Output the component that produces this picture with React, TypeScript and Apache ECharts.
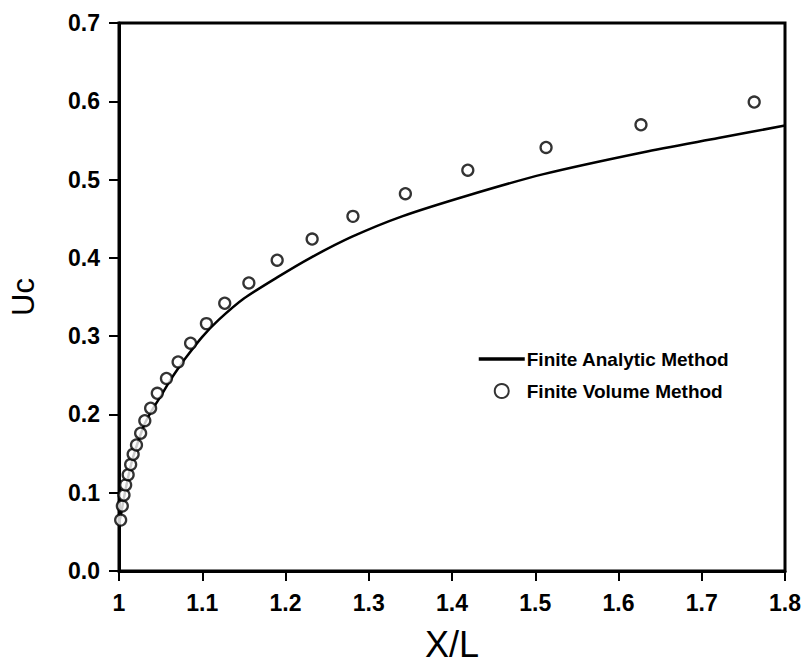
import React, { useEffect, useRef } from "react";
import * as echarts from "echarts";

// Finite Volume Method (circles)
const fvX = [1.002, 1.004, 1.006, 1.008, 1.011, 1.014, 1.017, 1.021, 1.026, 1.031, 1.038, 1.046, 1.057, 1.071, 1.086, 1.105, 1.127, 1.156, 1.19, 1.232, 1.281, 1.344, 1.419, 1.513, 1.627, 1.763];
const fvY = [0.065, 0.083, 0.097, 0.11, 0.123, 0.136, 0.149, 0.161, 0.176, 0.192, 0.208, 0.227, 0.246, 0.267, 0.291, 0.316, 0.342, 0.368, 0.397, 0.424, 0.453, 0.482, 0.512, 0.541, 0.57, 0.599];

// Finite Analytic Method (solid line)
const faX = [1.0, 1.002, 1.005, 1.01, 1.015, 1.02, 1.03, 1.04, 1.05, 1.06, 1.07, 1.08, 1.1, 1.12, 1.15, 1.19, 1.23, 1.28, 1.34, 1.42, 1.51, 1.63, 1.72, 1.8];
const faY = [0.062, 0.07, 0.088, 0.115, 0.138, 0.156, 0.186, 0.206, 0.223, 0.241, 0.257, 0.272, 0.299, 0.321, 0.348, 0.375, 0.4, 0.427, 0.453, 0.48, 0.507, 0.535, 0.553, 0.569];

const xTickLabels = ["1", "1.1", "1.2", "1.3", "1.4", "1.5", "1.6", "1.7", "1.8"];
const yTickLabels = ["0.0", "0.1", "0.2", "0.3", "0.4", "0.5", "0.6", "0.7"];

const seriesNames = ["Finite Analytic Method", "Finite Volume Method"];

export default function App() {
  const ref = useRef<HTMLDivElement>(null);
  useEffect(() => {
    if (!ref.current) return;
    const chart = echarts.init(ref.current, undefined, { renderer: "svg" });
    const font = "Liberation Sans";
    chart.setOption({
      animation: false,
      backgroundColor: "#fff",
      grid: {
        left: 119,
        top: 23,
        width: 666,
        height: 555,
        show: true,
        borderColor: "#000",
        borderWidth: 3,
      },
      legend: {
        orient: "vertical",
        left: 472,
        top: 344,
        itemWidth: 46,
        itemHeight: 14,
        itemGap: 12,
        data: [
          { name: seriesNames[0], itemStyle: { opacity: 0 }, lineStyle: { width: 3.5 } },
          { name: seriesNames[1] },
        ],
        textStyle: {
          fontFamily: font,
          fontWeight: "bold",
          fontSize: 19,
          lineHeight: 20,
          color: "#000",
          padding: [0, 0, 0, -3],
        },
      },
      xAxis: {
        type: "value",
        min: 1,
        max: 1.8,
        interval: 0.1,
        name: "X/L",
        nameLocation: "middle",
        nameGap: 55,
        nameTextStyle: { fontFamily: font, fontSize: 36, color: "#000" },
        axisLine: { show: true, lineStyle: { color: "#000", width: 3 } },
        axisTick: { show: true, length: 10, lineStyle: { color: "#000", width: 2 } },
        axisLabel: {
          margin: 20,
          fontFamily: font,
          fontWeight: "bold",
          fontSize: 23,
          color: "#000",
          formatter: (v: number) => xTickLabels[Math.round((v - 1) / 0.1)] ?? "",
        },
        splitLine: { show: false },
      },
      yAxis: {
        type: "value",
        min: 0,
        max: 0.7,
        interval: 0.1,
        name: "Uc",
        nameLocation: "middle",
        nameGap: 80,
        nameTextStyle: { fontFamily: font, fontSize: 31, color: "#000" },
        axisLine: { show: true, lineStyle: { color: "#000", width: 3 } },
        axisTick: { show: true, length: 10, lineStyle: { color: "#000", width: 2 } },
        axisLabel: {
          margin: 19,
          fontFamily: font,
          fontWeight: "bold",
          fontSize: 23,
          color: "#000",
          formatter: (v: number) => yTickLabels[Math.round(v / 0.1)] ?? "",
        },
        splitLine: { show: false },
      },
      series: [
        {
          name: seriesNames[0],
          type: "line",
          data: faX.map((x, i) => [x, faY[i]]),
          smooth: 0.25,
          showSymbol: false,
          symbol: "none",
          lineStyle: { color: "#000", width: 2.5 },
          itemStyle: { color: "#000" },
          z: 2,
        },
        {
          name: seriesNames[1],
          type: "scatter",
          data: fvX.map((x, i) => [x, fvY[i]]),
          symbol: "circle",
          symbolSize: 11,
          itemStyle: { color: "#fff", borderColor: "#000", borderWidth: 2.3 },
          z: 3,
        },
      ],
    });
    return () => chart.dispose();
  }, []);
  return (
    <div
      ref={ref}
      style={{ position: "fixed", left: 0, top: 0, width: 804, height: 667 }}
    />
  );
}
